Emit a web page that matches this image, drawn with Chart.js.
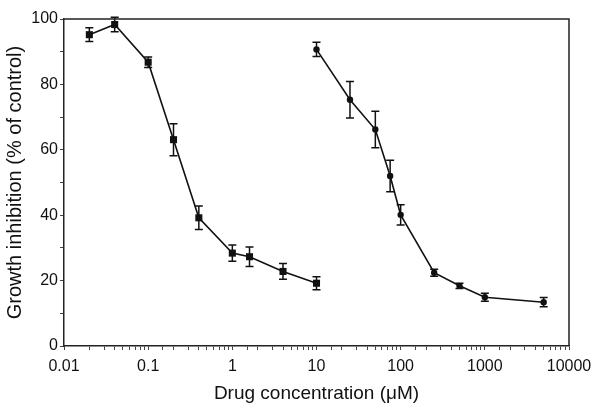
<!DOCTYPE html>
<html>
<head>
<meta charset="utf-8">
<script src="https://cdn.jsdelivr.net/npm/chart.js@4"></script>
<style>
html,body{margin:0;padding:0;background:#fff;}
#wrap{width:600px;height:411px;}
</style>
</head>
<body>
<div id="wrap"><canvas id="c" width="600" height="411"></canvas></div>
<script>
// Series 1 (squares)
const conc1 = [0.02, 0.04, 0.1, 0.2, 0.4, 1, 1.6, 4, 10];
const inhib1 = [95.2, 98.3, 86.8, 63.1, 39.2, 28.4, 27.3, 22.8, 19.2];
const err1 = [2.1, 2.2, 1.6, 4.9, 3.6, 2.5, 3.0, 2.4, 2.0];
// Series 2 (circles)
const conc2 = [10, 25, 50, 75, 100, 250, 500, 1000, 5000];
const inhib2 = [90.7, 75.3, 66.2, 52.0, 40.1, 22.4, 18.4, 14.9, 13.4];
const err2 = [2.2, 5.6, 5.6, 4.8, 3.1, 1.1, 0.8, 1.2, 1.4];
// Tick labels
const xTickLabels = ['0.01', '0.1', '1', '10', '100', '1000', '10000'];
const yTickLabels = ['0', '20', '40', '60', '80', '100'];

const FONT = "'Liberation Sans', Arial, sans-serif";

function pts(xs, ys) { return xs.map((x, i) => ({x: x, y: ys[i]})); }

const errorBars = {
  id: 'errorBars',
  afterDatasetsDraw(chart) {
    const {ctx, scales: {x, y}} = chart;
    const sets = [[conc1, inhib1, err1], [conc2, inhib2, err2]];
    ctx.save();
    ctx.strokeStyle = '#111';
    ctx.lineWidth = 1.5;
    sets.forEach(([xs, ys, es]) => {
      xs.forEach((xv, i) => {
        const px = x.getPixelForValue(xv);
        const top = y.getPixelForValue(ys[i] + es[i]);
        const bot = y.getPixelForValue(ys[i] - es[i]);
        ctx.beginPath();
        ctx.moveTo(px, top); ctx.lineTo(px, bot);
        ctx.moveTo(px - 4, top); ctx.lineTo(px + 4, top);
        ctx.moveTo(px - 4, bot); ctx.lineTo(px + 4, bot);
        ctx.stroke();
      });
    });
    ctx.restore();
  }
};

const frame = {
  id: 'frame',
  afterDraw(chart) {
    const {ctx, chartArea: a} = chart;
    ctx.save();
    ctx.strokeStyle = '#222';
    ctx.lineWidth = 1.5;
    ctx.beginPath();
    ctx.moveTo(a.left, a.top); ctx.lineTo(a.right, a.top); ctx.lineTo(a.right, a.bottom);
    ctx.stroke();
    ctx.restore();
  }
};

new Chart(document.getElementById('c'), {
  type: 'line',
  data: {
    datasets: [
      {
        data: pts(conc1, inhib1),
        borderColor: '#111', backgroundColor: '#111', borderWidth: 1.6,
        pointStyle: 'rect', pointRadius: 5, pointBorderWidth: 0, tension: 0
      },
      {
        data: pts(conc2, inhib2),
        borderColor: '#111', backgroundColor: '#111', borderWidth: 1.6,
        pointStyle: 'circle', pointRadius: 3.2, pointBorderWidth: 0, tension: 0
      }
    ]
  },
  options: {
    responsive: false,
    animation: false,
    layout: {padding: {top: 19, right: 31, left: 0, bottom: 0}},
    plugins: {legend: {display: false}, tooltip: {enabled: false}},
    scales: {
      x: {
        type: 'logarithmic',
        min: 0.01, max: 10000,
        afterFit(s) { s.height = 65; },
        border: {display: true, color: '#222', width: 1.5},
        grid: {display: true, drawOnChartArea: false, drawTicks: true, tickLength: 4, tickColor: '#444', lineWidth: 1},
        ticks: {
          autoSkip: false, maxRotation: 0, minRotation: 0, padding: 7,
          color: '#111', font: {family: FONT, size: 16},
          callback(v) {
            const e = Math.log10(v);
            if (Math.abs(e - Math.round(e)) < 1e-6) {
              return xTickLabels[Math.round(e) + 2];
            }
            return '';
          }
        },
        title: {display: true, text: 'Drug concentration (\u03bcM)', color: '#111',
          font: {family: FONT, size: 19}, padding: {top: 0, bottom: 6}}
      },
      y: {
        min: 0, max: 100,
        afterFit(s) { s.width = 64; },
        border: {display: true, color: '#222', width: 1.5},
        grid: {display: true, drawOnChartArea: false, drawTicks: true, tickLength: 4, tickColor: '#444', lineWidth: 1},
        ticks: {
          stepSize: 10, autoSkip: false, padding: 2,
          color: '#111', font: {family: FONT, size: 16},
          callback(v) {
            if (v % 20 === 0) return yTickLabels[v / 20];
            return '';
          }
        },
        title: {display: true, text: 'Growth inhibition (% of control)', color: '#111',
          font: {family: FONT, size: 20}, padding: {top: 3, bottom: 0}}
      }
    }
  },
  plugins: [errorBars, frame]
});
</script>
</body>
</html>
